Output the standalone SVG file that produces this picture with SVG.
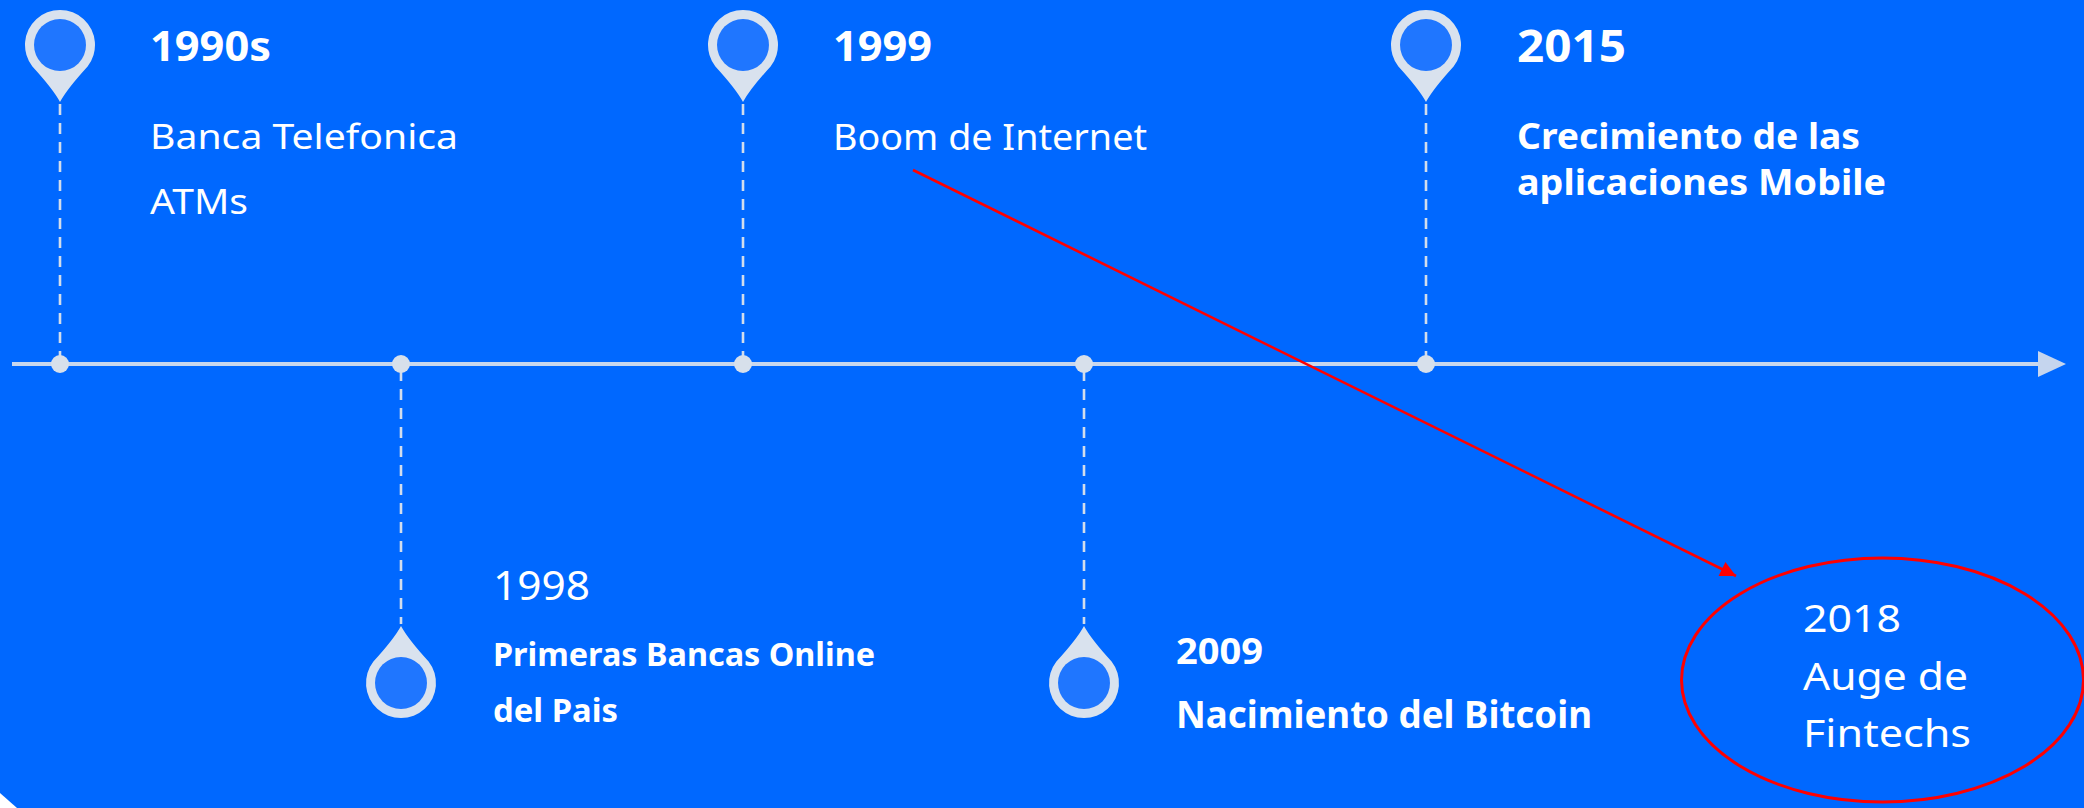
<svg xmlns="http://www.w3.org/2000/svg" width="2084" height="808" viewBox="0 0 2084 808">
<style>
.t{font-family:"Noto Sans","Liberation Sans",sans-serif;fill:#ffffff}
.b{font-weight:bold}
.pinOut{fill:#d9e2ee}
.pinIn{fill:#1f76ff}
.dash{stroke:#d2ddec;stroke-width:2.6;stroke-dasharray:11 8;fill:none}
.dot{fill:#d7e0eb}
</style>
<defs>
<marker id="redHead" viewBox="0 0 10 10" refX="10" refY="5" markerWidth="7" markerHeight="6" markerUnits="strokeWidth" orient="auto">
<path d="M0,0 L10,5 L0,10 Z" fill="#ff0000"/>
</marker>
</defs>
<rect x="0" y="0" width="2084" height="808" fill="#0068ff"/>
<polygon points="0,793 17,808 0,808" fill="#ffffff"/>

<g id="connectors">
<line x1="12" y1="364" x2="2040" y2="364" stroke="#c8d7ee" stroke-width="4"/>
<polygon points="2038,351 2066,364 2038,377" fill="#c5d5ee"/>
<line class="dash" x1="60" y1="104" x2="60" y2="358"/>
<line class="dash" x1="743" y1="104" x2="743" y2="358"/>
<line class="dash" x1="1426" y1="104" x2="1426" y2="358"/>
<line class="dash" x1="401" y1="370" x2="401" y2="624"/>
<line class="dash" x1="1084" y1="370" x2="1084" y2="624"/>
<line x1="913" y1="170" x2="1736" y2="576" stroke="#ff0000" stroke-width="2.6" marker-end="url(#redHead)"/>
</g>

<g id="dots">
<circle class="dot" cx="60" cy="364" r="9"/>
<circle class="dot" cx="401" cy="364" r="9"/>
<circle class="dot" cx="743" cy="364" r="9"/>
<circle class="dot" cx="1084" cy="364" r="9"/>
<circle class="dot" cx="1426" cy="364" r="9"/>
</g>

<g id="node-1990s">
<path class="pinOut" transform="translate(60,45)" d="M0,57 Q7,44 27.6,21.5 A35,35 0 1 0 -27.6,21.5 Q-7,44 0,57 Z"/>
<circle class="pinIn" cx="60" cy="45" r="26"/>
<text class="t b" x="150" y="61" font-size="42" textLength="121" lengthAdjust="spacingAndGlyphs">1990s</text>
<text class="t" x="150" y="149" font-size="35" textLength="308" lengthAdjust="spacingAndGlyphs">Banca Telefonica</text>
<text class="t" x="150" y="214" font-size="35" textLength="98" lengthAdjust="spacingAndGlyphs">ATMs</text>
</g>

<g id="node-1998">
<path class="pinOut" transform="translate(401,683)" d="M0,-57 Q7,-44 27.6,-21.5 A35,35 0 1 1 -27.6,-21.5 Q-7,-44 0,-57 Z"/>
<circle class="pinIn" cx="401" cy="683" r="26"/>
<text class="t" x="493" y="600" font-size="40" textLength="97" lengthAdjust="spacingAndGlyphs">1998</text>
<text class="t b" x="493" y="666" font-size="32" textLength="382" lengthAdjust="spacingAndGlyphs">Primeras Bancas Online</text>
<text class="t b" x="493" y="722" font-size="32" textLength="125" lengthAdjust="spacingAndGlyphs">del Pais</text>
</g>

<g id="node-1999">
<path class="pinOut" transform="translate(743,45)" d="M0,57 Q7,44 27.6,21.5 A35,35 0 1 0 -27.6,21.5 Q-7,44 0,57 Z"/>
<circle class="pinIn" cx="743" cy="45" r="26"/>
<text class="t b" x="833" y="61" font-size="42" textLength="99" lengthAdjust="spacingAndGlyphs">1999</text>
<text class="t" x="833" y="150" font-size="36" textLength="314" lengthAdjust="spacingAndGlyphs">Boom de Internet</text>
</g>

<g id="node-2009">
<path class="pinOut" transform="translate(1084,683)" d="M0,-57 Q7,-44 27.6,-21.5 A35,35 0 1 1 -27.6,-21.5 Q-7,-44 0,-57 Z"/>
<circle class="pinIn" cx="1084" cy="683" r="26"/>
<text class="t b" x="1176" y="664" font-size="36" textLength="87" lengthAdjust="spacingAndGlyphs">2009</text>
<text class="t b" x="1176" y="728" font-size="37" textLength="416" lengthAdjust="spacingAndGlyphs">Nacimiento del Bitcoin</text>
</g>

<g id="node-2015">
<path class="pinOut" transform="translate(1426,45)" d="M0,57 Q7,44 27.6,21.5 A35,35 0 1 0 -27.6,21.5 Q-7,44 0,57 Z"/>
<circle class="pinIn" cx="1426" cy="45" r="26"/>
<text class="t b" x="1517" y="62" font-size="45" textLength="109" lengthAdjust="spacingAndGlyphs">2015</text>
<text class="t b" x="1517" y="149" font-size="35" textLength="343" lengthAdjust="spacingAndGlyphs">Crecimiento de las</text>
<text class="t b" x="1517" y="195" font-size="35" textLength="369" lengthAdjust="spacingAndGlyphs">aplicaciones Mobile</text>
</g>

<g id="node-2018">
<ellipse cx="1882.5" cy="680" rx="201" ry="122" fill="none" stroke="#ff0000" stroke-width="3"/>
<text class="t" x="1803" y="632" font-size="39" textLength="98" lengthAdjust="spacingAndGlyphs">2018</text>
<text class="t" x="1803" y="690" font-size="39" textLength="165" lengthAdjust="spacingAndGlyphs">Auge de</text>
<text class="t" x="1803" y="747" font-size="39" textLength="168" lengthAdjust="spacingAndGlyphs">Fintechs</text>
</g>
</svg>
